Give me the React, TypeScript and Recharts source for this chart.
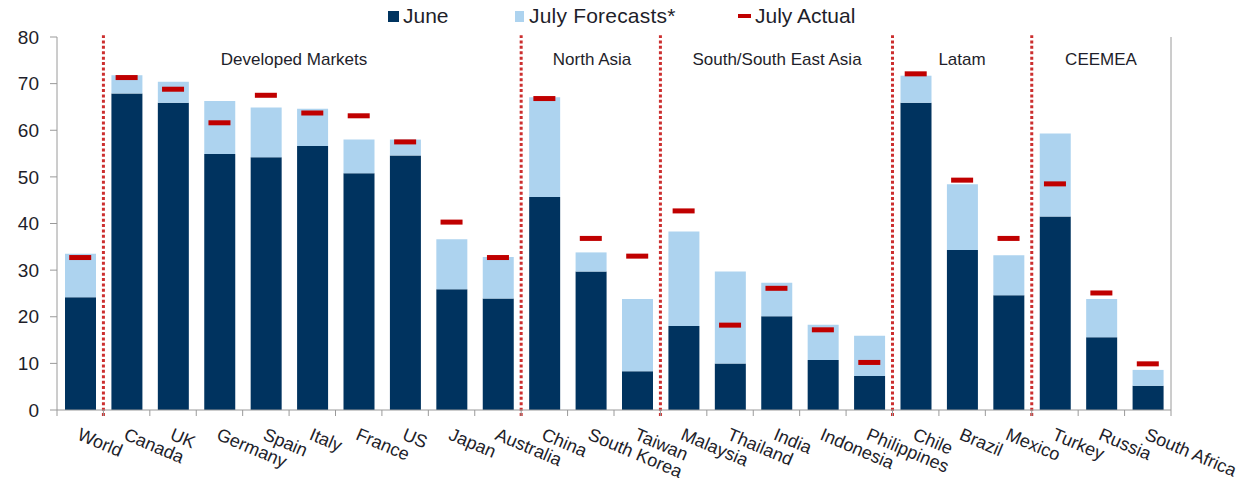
import React from "react"
import { ComposedChart, Bar, Line, XAxis, YAxis, ReferenceLine } from "recharts"

const countries = [
  "World", "Canada", "UK", "Germany", "Spain", "Italy", "France", "US", "Japan", "Australia",
  "China", "South Korea", "Taiwan", "Malaysia", "Thailand", "India", "Indonesia", "Philippines",
  "Chile", "Brazil", "Mexico", "Turkey", "Russia", "South Africa",
]
const june = [24.2, 67.9, 65.9, 54.9, 54.2, 56.6, 50.8, 54.6, 25.9, 23.9, 45.7, 29.7, 8.3, 18.0, 10.0, 20.1, 10.7, 7.3, 65.9, 34.3, 24.6, 41.5, 15.6, 5.2]
const julyForecast = [33.5, 71.8, 70.4, 66.3, 64.9, 64.6, 58.0, 58.0, 36.6, 32.8, 67.1, 33.8, 23.8, 38.3, 29.7, 27.3, 18.3, 15.9, 71.7, 48.4, 33.2, 59.3, 23.8, 8.6]
const julyActual = [32.7, 71.3, 68.8, 61.6, 67.5, 63.7, 63.1, 57.5, 40.3, 32.7, 66.8, 36.8, 33.0, 42.7, 18.2, 26.1, 17.2, 10.2, 72.1, 49.3, 36.8, 48.5, 25.1, 9.9]

const groupStarts = ["Canada", "China", "Malaysia", "Chile", "Turkey"]
const groupLabels = ["Developed Markets", "North Asia", "South/South East Asia", "Latam", "CEEMEA"]
const groupLabelX = [294, 592, 777, 962, 1101]
const yTicks = [0, 10, 20, 30, 40, 50, 60, 70, 80]

const DARK = "#00335f"
const LIGHT = "#add3ef"
const RED = "#c00000"
const DOTS = "#cc2f2f"
const AXIS = "#9a9a9a"
const TEXT = "#1e1e2a"
const FONT = "'Liberation Sans', Arial, sans-serif"

const WIDTH = 1248
const HEIGHT = 483
const MARGIN = { top: 37, right: 32, bottom: 13, left: 12 }
const Y_WIDTH = 45
const BAND = (WIDTH - MARGIN.left - MARGIN.right - 2 * Y_WIDTH) / countries.length

const data = countries.map((name, i) => ({
  name,
  june: june[i],
  forecastExtra: Math.max(julyForecast[i] - june[i], 0),
  actual: julyActual[i],
}))

function CountryTick(props: any) {
  const { x, y, payload, index } = props
  const half = BAND / 2
  const tx = x - 4
  const ty = y + 29
  return (
    <g>
      <line x1={x - half} x2={x - half} y1={y} y2={y + 6} stroke={AXIS} />
      {index === countries.length - 1 && <line x1={x + half} x2={x + half} y1={y} y2={y + 6} stroke={AXIS} />}
      <text x={tx} y={ty} transform={`rotate(23 ${tx} ${ty})`} fontSize={18} fill={TEXT} fontFamily={FONT}>
        {payload.value}
      </text>
    </g>
  )
}

function ActualMark(props: any) {
  const { cx, cy } = props
  if (cx == null || cy == null) return null
  return <rect x={cx - 11} y={cy - 2.5} width={22} height={5} fill={RED} />
}

const legendText = { position: "absolute" as const, top: 16, transform: "translateY(-50%)", fontSize: 21, whiteSpace: "nowrap" as const }

export default function App() {
  return (
    <div style={{ position: "relative", width: WIDTH, height: HEIGHT, fontFamily: FONT, color: TEXT }}>
      <style>{`body{margin:0}`}</style>
      <ComposedChart width={WIDTH} height={HEIGHT} data={data} margin={MARGIN}>
        <XAxis
          dataKey="name"
          height={60}
          interval={0}
          tickLine={false}
          tickSize={0}
          tickMargin={0}
          axisLine={{ stroke: AXIS }}
          tick={<CountryTick />}
        />
        <YAxis
          yAxisId="left"
          width={Y_WIDTH}
          domain={[0, 80]}
          ticks={yTicks}
          tickSize={7}
          tickMargin={11}
          axisLine={{ stroke: AXIS }}
          tickLine={{ stroke: AXIS }}
          tick={{ fontSize: 19, fill: TEXT, fontFamily: FONT }}
        />
        <YAxis
          yAxisId="right"
          orientation="right"
          width={Y_WIDTH}
          domain={[0, 80]}
          ticks={yTicks}
          tickSize={7}
          tickMargin={11}
          axisLine={{ stroke: AXIS }}
          tickLine={{ stroke: AXIS }}
          tick={{ fontSize: 19, fill: TEXT, fontFamily: FONT, textAnchor: "start" }}
        />
        <Bar yAxisId="left" dataKey="june" stackId="a" fill={DARK} barSize={31} isAnimationActive={false} />
        <Bar yAxisId="left" dataKey="forecastExtra" stackId="a" fill={LIGHT} barSize={31} isAnimationActive={false} />
        <Line
          yAxisId="left"
          dataKey="actual"
          stroke="none"
          dot={<ActualMark />}
          activeDot={false}
          isAnimationActive={false}
        />
        {groupStarts.map((g) => (
          <ReferenceLine
            key={g}
            yAxisId="left"
            segment={[{ x: g, y: -1.3 }, { x: g, y: 80.4 }]}
            position="start"
            ifOverflow="visible"
            stroke={DOTS}
            strokeWidth={3}
            strokeDasharray="3 2.4"
          />
        ))}
      </ComposedChart>

      {groupLabels.map((label, i) => (
        <div
          key={label}
          style={{
            position: "absolute",
            left: groupLabelX[i],
            top: 60,
            transform: "translate(-50%, -50%)",
            fontSize: 17,
            whiteSpace: "nowrap",
          }}
        >
          {label}
        </div>
      ))}

      <span style={{ position: "absolute", left: 388, top: 11, width: 11, height: 11, background: DARK }} />
      <span style={{ ...legendText, left: 403 }}>June</span>
      <span style={{ position: "absolute", left: 515, top: 11, width: 9, height: 11, background: LIGHT }} />
      <span style={{ ...legendText, left: 529, letterSpacing: 0.2 }}>July Forecasts*</span>
      <span style={{ position: "absolute", left: 738, top: 14, width: 13, height: 4, background: RED }} />
      <span style={{ ...legendText, left: 755 }}>July Actual</span>
    </div>
  )
}
